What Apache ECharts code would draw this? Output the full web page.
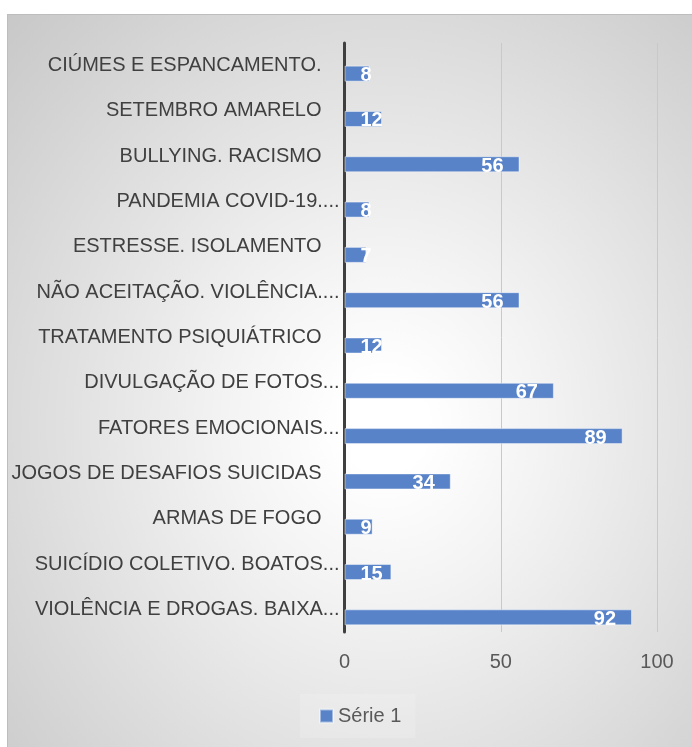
<!DOCTYPE html>
<html>
<head>
<meta charset="utf-8">
<script src="https://cdn.jsdelivr.net/npm/echarts@6/dist/echarts.min.js"></script>
<style>
  html, body { margin: 0; padding: 0; background: #ffffff; }
  #frame {
    position: absolute; left: 7px; top: 14px; width: 685px; height: 733px;
    box-sizing: border-box;
    border-left: 1px solid #bdbdbd; border-top: 1px solid #bdbdbd;
    background: radial-gradient(ellipse farthest-corner at 55% 56%, #ffffff 8%, #f3f3f3 30%, #c8c8c8 100%);
  }
  #chart { width: 100%; height: 100%; }
</style>
</head>
<body>
<div id="frame"><div id="chart"></div></div>
<script>
// Categories, top to bottom
const categories = [
  'CIÚMES E ESPANCAMENTO.',
  'SETEMBRO AMARELO',
  'BULLYING. RACISMO',
  'PANDEMIA COVID-19....',
  'ESTRESSE. ISOLAMENTO',
  'NÃO ACEITAÇÃO. VIOLÊNCIA....',
  'TRATAMENTO PSIQUIÁTRICO',
  'DIVULGAÇÃO DE FOTOS...',
  'FATORES EMOCIONAIS...',
  'JOGOS DE DESAFIOS SUICIDAS',
  'ARMAS DE FOGO',
  'SUICÍDIO COLETIVO. BOATOS...',
  'VIOLÊNCIA E DROGAS. BAIXA...'
];

// Série 1 values, same order
const serie1 = [8, 12, 56, 8, 7, 56, 12, 67, 89, 34, 9, 15, 92];

// Value axis ticks
const xMin = 0;
const xMax = 100;
const xStep = 50;

const seriesName = 'Série 1';
const FONT = 'Liberation Sans';

const chart = echarts.init(document.getElementById('chart'));

chart.setOption({
  animation: false,
  textStyle: { fontFamily: FONT },
  grid: { left: 336.5, right: 35, top: 28, bottom: 115, containLabel: false },
  legend: {
    data: [seriesName],
    left: 292,
    bottom: 9,
    padding: [12, 14, 12, 19],
    backgroundColor: 'rgba(255,255,255,0.15)',
    itemWidth: 13,
    itemHeight: 13,
    icon: 'rect',
    textStyle: { fontSize: 20, color: '#595959', fontFamily: FONT }
  },
  xAxis: {
    type: 'value',
    min: xMin,
    max: xMax,
    interval: xStep,
    axisLine: { show: false },
    axisTick: { show: false },
    splitLine: { lineStyle: { color: '#c9c9c9', width: 1 } },
    axisLabel: { fontSize: 20, color: '#595959', margin: 20, fontFamily: FONT }
  },
  yAxis: {
    type: 'category',
    data: categories,
    inverse: true,
    axisTick: { show: false },
    axisLine: { lineStyle: { color: '#3f3f3f', width: 3 } },
    axisLabel: {
      fontSize: 20,
      color: '#404040',
      margin: 5,
      fontFamily: FONT,
      // full labels sit a little further from the axis than truncated ones
      formatter: v => v.endsWith('...') ? v : v + '{pad|}',
      rich: { pad: { width: 18 } }
    }
  },
  series: [
    {
      // empty slot in each band, keeps the visible bar in the lower half
      name: 'slot',
      type: 'bar',
      barWidth: 16,
      barGap: '0%',
      data: []
    },
    {
      name: seriesName,
      type: 'bar',
      barWidth: 16,
      barGap: '0%',
      itemStyle: { color: '#5883c9', borderColor: 'rgba(255,255,255,0.45)', borderWidth: 1 },
      label: {
        show: true,
        color: '#ffffff',
        fontWeight: 'bold',
        fontSize: 20,
        fontFamily: FONT,
        distance: 16,
        offset: [0, 2]
      },
      data: serie1.map(v => ({
        value: v,
        label: { position: v < 20 ? 'insideLeft' : 'insideRight' }
      }))
    }
  ]
});
</script>
</body>
</html>
